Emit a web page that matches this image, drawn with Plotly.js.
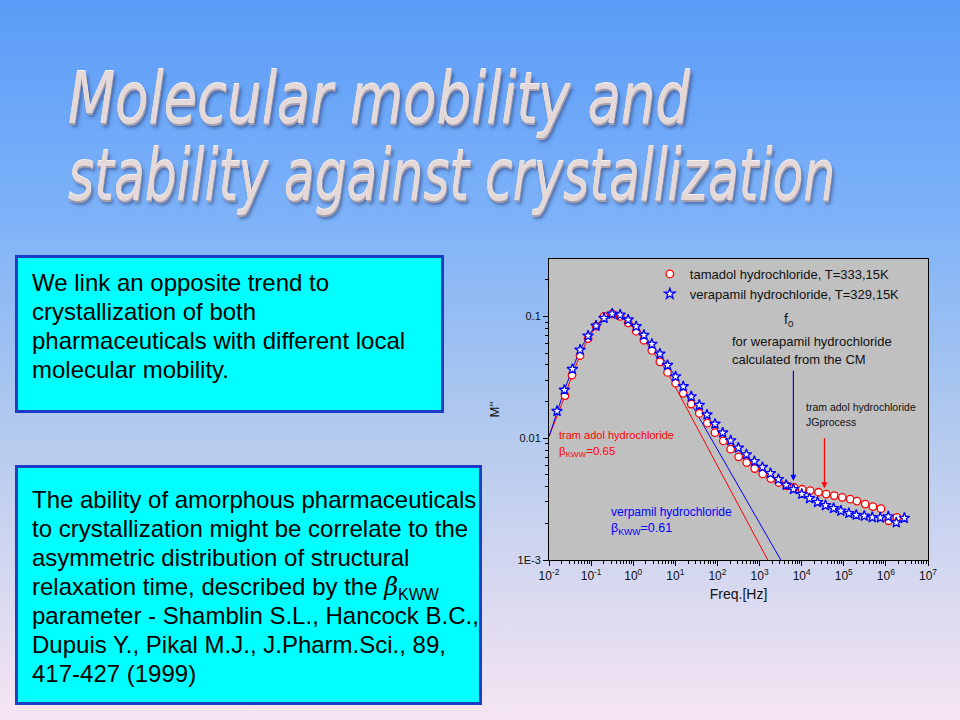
<!DOCTYPE html>
<html><head><meta charset="utf-8">
<script src="https://cdn.plot.ly/plotly-3.0.1.min.js"></script>
<style>
html,body{margin:0;padding:0;}
#slide{position:relative;width:960px;height:720px;overflow:hidden;background:linear-gradient(to bottom,#5b9cf8 0%,#7db2f8 30%,#b3caee 60%,#f6e5f2 100%);font-family:Arial,"Liberation Sans",sans-serif;}
#chart{position:absolute;left:0;top:0;width:960px;height:720px;}
#title{position:absolute;left:68px;top:60px;font-family:"Liberation Sans Narrow","DejaVu Sans Condensed",sans-serif;font-style:italic;font-size:72px;line-height:77px;color:#e4d8d8;white-space:nowrap;text-shadow:0 -1px 0 #f6f0f0,1px 2px 0 #a8a0ac,3px 4px 4px rgba(30,40,90,0.5);}
#title span{display:inline-block;transform-origin:0 0;}
.box{position:absolute;box-sizing:border-box;background:#00ffff;border:3px solid #1b3cc6;font-size:24px;line-height:29px;color:#000;white-space:nowrap;}
.beta{font-family:"DejaVu Serif",serif;font-style:italic;line-height:0;}
.sub{font-size:16px;vertical-align:-5px;line-height:0;}
</style></head>
<body><div id="slide"><div id="chart"></div>
<div id="title"><span id="t1">Molecular mobility and</span><br><span id="t2">stability against crystallization</span></div>
<div class="box" id="b1" style="left:15px;top:255px;width:429px;height:158px;padding:10px 0 0 14px;">We link an opposite trend to<br>crystallization of both<br>pharmaceuticals with different local<br>molecular mobility.</div>
<div class="box" id="b2" style="left:15px;top:465px;width:467px;height:240px;padding:17px 0 0 14px;">The ability of amorphous pharmaceuticals<br>to crystallization might be correlate to the<br>asymmetric distribution of structural<br>relaxation time, described by the <span class="beta">β</span><span class="sub">KWW</span><br>parameter - Shamblin S.L., Hancock B.C.,<br>Dupuis Y., Pikal M.J., J.Pharm.Sci., 89,<br>417-427 (1999)</div>
</div>
<script>
// ---- data ----
const tramFreq = [0.0240,0.0352,0.0546,0.0847,0.131,0.203,0.316,0.489,0.757,1.175,1.786,2.767,4.295,6.531,10.14,15.42,23.88,37.07,57.41,87.3,138.0,206.1,319.2,495.5,767.4,1189,1845,2858,4426,6622,10250,15890,25120,38190,59160,91830,142200,205100,323600,492000,763800,1161000,1832000];
const tramM = [0.0224,0.0330,0.0478,0.0659,0.0834,0.100,0.105,0.100,0.0887,0.0757,0.0638,0.0526,0.0424,0.0347,0.0283,0.0234,0.0191,0.0160,0.0133,0.0111,0.00951,0.00813,0.00703,0.00631,0.00564,0.00509,0.00466,0.00433,0.00406,0.00394,0.00381,0.00372,0.00360,0.00348,0.00338,0.00327,0.00316,0.00305,0.00288,0.00274,0.00264,0.00210,0.00224];
const veraFreq = [0.0155,0.0232,0.0359,0.0546,0.0847,0.131,0.203,0.316,0.489,0.757,1.175,1.786,2.767,4.295,6.531,10.14,15.42,23.88,37.07,56.36,87.3,133.0,206.1,313.3,486.4,753.4,1167,1811,2805,4266,6383,10070,15350,23770,36810,57150,85310,132100,197700,306200,474200,736200,1140000,1766000,2742000];
const veraM = [0.0167,0.0249,0.0369,0.0532,0.0693,0.0838,0.0968,0.105,0.103,0.0940,0.0828,0.0703,0.0593,0.0493,0.0398,0.0321,0.0266,0.0220,0.0187,0.0156,0.0131,0.0111,0.00957,0.00834,0.00735,0.00647,0.00578,0.00515,0.00460,0.00413,0.00381,0.00348,0.00321,0.00298,0.00281,0.00266,0.00253,0.00242,0.00234,0.00230,0.00224,0.00223,0.00227,0.00203,0.00221];
const tramFitFreq = [0.01,0.0240,0.0352,0.0546,0.0847,0.131,0.203,0.316,0.489,0.757,1.175,1.786,2.767,4.295,6.531,1567];
const tramFitM = [0.0103,0.0224,0.0330,0.0478,0.0659,0.0834,0.0995,0.1055,0.1005,0.0890,0.0760,0.0640,0.0528,0.0425,0.0347,0.001];
const veraFitFreq = [0.01,0.0155,0.0232,0.0359,0.0546,0.0847,0.131,0.203,0.316,0.489,0.757,1.175,1.786,2.767,4.295,6.531,10.14,3190];
const veraFitM = [0.0103,0.0167,0.0249,0.0369,0.0532,0.0693,0.0838,0.0968,0.105,0.103,0.094,0.0828,0.0703,0.0593,0.0493,0.0398,0.0321,0.001];
const xTickVals = [1e-2,1e-1,1e0,1e1,1e2,1e3,1e4,1e5,1e6,1e7];
const xTickText = ['10<sup>-2</sup>','10<sup>-1</sup>','10<sup>0</sup>','10<sup>1</sup>','10<sup>2</sup>','10<sup>3</sup>','10<sup>4</sup>','10<sup>5</sup>','10<sup>6</sup>','10<sup>7</sup>'];
const yTickVals = [0.001,0.01,0.1];
const yTickText = ['1E-3','0.01','0.1'];
const legendNames = ['tamadol hydrochloride, T=333,15K','verapamil hydrochloride, T=329,15K'];

// ---- layout helpers (plot area in page pixels) ----
const PL=549, PR=928, PT=259, PB=560;
const px = v => (v-PL)/(PR-PL);
const py = v => (PB-v)/(PB-PT);

const traces = [
  {x:tramFitFreq, y:tramFitM, mode:'lines', line:{color:'#ff0000', width:1}, showlegend:false, hoverinfo:'skip'},
  {x:veraFitFreq, y:veraFitM, mode:'lines', line:{color:'#0000ff', width:1}, showlegend:false, hoverinfo:'skip'},
  {x:tramFreq, y:tramM, mode:'markers', name:legendNames[0], marker:{symbol:'circle', size:7.5, color:'#ffffff', line:{color:'#ff0000', width:1.3}}},
  {x:veraFreq, y:veraM, mode:'markers', name:legendNames[1], marker:{symbol:'star', size:8, color:'#ffffff', line:{color:'#0000ff', width:1.3}}}
];

const txt = (x,y,t,c,s) => ({xref:'paper', yref:'paper', x:px(x), y:py(y), text:t, showarrow:false, xanchor:'left', yanchor:'middle', font:{color:c, size:s}});

const layout = {
  width:960, height:720,
  margin:{l:PL, r:960-PR, t:PT, b:720-PB, pad:0},
  paper_bgcolor:'rgba(0,0,0,0)', plot_bgcolor:'#c0c0c0',
  font:{family:'Arial, Liberation Sans, sans-serif', size:12, color:'#111'},
  showlegend:true,
  legend:{x:0.266, y:1.0, xanchor:'left', yanchor:'top', bgcolor:'rgba(0,0,0,0)', font:{size:13, color:'#111'}, tracegroupgap:0},
  xaxis:{type:'log', range:[-2,7], tickmode:'array', tickvals:xTickVals, ticktext:xTickText, ticks:'outside', ticklen:5, tickwidth:1, tickcolor:'#000',
    showline:true, linecolor:'#000', linewidth:1, mirror:true, showgrid:false, zeroline:false,
    minor:{ticks:'outside', ticklen:3, tickcolor:'#000', dtick:'D1', showgrid:false},
    tickfont:{size:12, color:'#111'}, title:{text:'Freq.[Hz]', font:{size:14, color:'#111'}, standoff:6}},
  yaxis:{type:'log', range:[-3,-0.528], tickmode:'array', tickvals:yTickVals, ticktext:yTickText, ticks:'outside', ticklen:5, tickwidth:1, tickcolor:'#000',
    showline:true, linecolor:'#000', linewidth:1, mirror:true, showgrid:false, zeroline:false,
    minor:{ticks:'outside', ticklen:3, tickcolor:'#000', dtick:'D1', showgrid:false},
    tickfont:{size:11, color:'#111'}, title:{text:"M''", font:{size:13, color:'#111'}, standoff:14}},
  annotations:[
    txt(782,320,'f<sub>0</sub>','#111',14),
    txt(730,341,'for werapamil hydrochloride','#111',13),
    txt(730,359,'calculated from the CM','#111',13),
    txt(804,407,'tram adol hydrochloride','#111',10.5),
    txt(804,422,'JGprocess','#111',10.5),
    txt(557,435,'tram adol hydrochloride','#ff0000',11),
    txt(557,452,'β<sub>KWW</sub>=0.65','#ff0000',11.5),
    txt(609,512,'verpamil hydrochloride','#0000ff',12),
    txt(609,529,'β<sub>KWW</sub>=0.61','#0000ff',12.5),
    {xref:'x', yref:'y', axref:'x', ayref:'y', x:3.804, y:-2.35, ax:3.804, ay:-1.433, text:'', showarrow:true, arrowhead:2, arrowsize:1, arrowwidth:1.2, arrowcolor:'#0000ff'},
    {xref:'x', yref:'y', axref:'x', ayref:'y', x:4.541, y:-2.41, ax:4.541, ay:-1.987, text:'', showarrow:true, arrowhead:2, arrowsize:1, arrowwidth:1.2, arrowcolor:'#ff0000'}
  ]
};

Plotly.newPlot('chart', traces, layout, {displayModeBar:false, staticPlot:true});

// fit title lines to their widths in the slide
[['t1',622],['t2',767]].forEach(([id,w])=>{
  const el=document.getElementById(id);
  const k=w/el.getBoundingClientRect().width;
  el.style.transform='scaleX('+k+')';
});
</script>
</body></html>
